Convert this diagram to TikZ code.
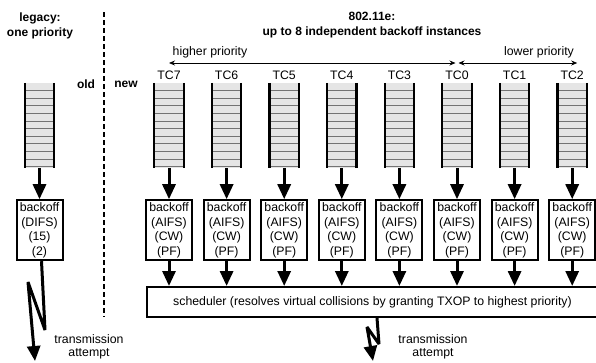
\documentclass[tikz,border=0pt]{standalone}
\usepackage{fontspec}
\setmainfont{Liberation Sans}
\usetikzlibrary{arrows.meta,positioning,calc}

\begin{document}
\begin{tikzpicture}[x=1pt,y=-1pt,
  txt/.style={font=\fontsize{12.3}{13}\selectfont,inner sep=0pt,align=center},
  head/.style={font=\fontsize{12}{15}\selectfont\bfseries,inner sep=0pt,align=center},
  box/.style={draw,line width=2pt,minimum width=46pt,minimum height=60pt,inner sep=0.5pt,align=center,font=\fontsize{12.3}{14.6}\selectfont},
  queue/.style={fill=black!10,minimum width=29pt,minimum height=85pt,inner sep=0pt},
  flow/.style={line width=3pt,line join=miter,miter limit=3,-{Triangle[length=15pt,width=13pt]}},
  prio/.style={{Stealth[length=6pt,width=5pt]}-{Stealth[length=6pt,width=5pt]},line width=0.8pt}]
  \useasboundingbox (0,0) rectangle (596,362);

  % headings
  \node[head] (legacy) at (40,25.5) {legacy:\\one priority};
  \node[head] (edca) at (372,25.5) {802.11e:\\up to 8 independent backoff instances};
  \node[head] (old) at (86,84) {old};
  \node[head] (new) at (126,84) {new};
  \draw[line width=2pt,dash pattern=on 5pt off 3pt] (104,12) -- (104,317);

  % legacy queue
  \node[queue] (q) at (39.5,125.5) {};
  \foreach \k in {1,...,11}
    \draw[black!55,line width=0.6pt] ($(q.north west)+(0,\k*7.6)$) -- ++(29,0);
  \draw[line width=2.2pt] (q.north west) -- (q.south west) (q.north east) -- (q.south east);
  \node[box,below=31pt of q] (bl) {backoff\\(DIFS)\\(15)\\(2)};
  \draw[flow] (q) -- (bl);

  % scheduler
  \node[box,minimum width=451pt,minimum height=30pt] (sched) at (372.5,302)
    {scheduler (resolves virtual collisions by granting TXOP to highest priority)};

  % 802.11e queues
  \foreach \x/\n in {169/7,226.6/6,284.2/5,341.8/4,399.4/3,457/0,514.6/1,572.2/2}{
    \node[queue] (q\n) at (\x,125.5) {};
    \foreach \k in {1,...,11}
      \draw[black!55,line width=0.6pt] ($(q\n.north west)+(0,\k*7.6)$) -- ++(29,0);
    \draw[line width=2.2pt] (q\n.north west) -- (q\n.south west) (q\n.north east) -- (q\n.south east);
    \node[txt,above=2.5pt of q\n] (t\n) {TC\n};
    \node[box,below=31pt of q\n] (b\n) {backoff\\(AIFS)\\(CW)\\(PF)};
    \draw[flow] (q\n) -- (b\n);
    \draw[flow] (b\n) -- (b\n |- sched.north);
  }

  % priority arrows
  \coordinate (prioy) at (0,63);
  \draw[prio] (t7 |- prioy) -- ($(t0 |- prioy)+(-1.5,0)$);
  \draw[prio] ($(t0 |- prioy)+(1.5,0)$) -- ($(t2 |- prioy)+(5,0)$);
  \node[txt] (higher) at (210,52) {higher priority};
  \node[txt] (lower) at (539,52) {lower priority};

  % transmission attempts
  \coordinate (tx1) at (35,361);
  \coordinate (tx2) at (373,361);
  \draw[flow] ($(bl.south)+(2,0)$) -- (45,330) -- (28,282) -- (tx1);
  \draw[flow] ($(sched.south)+(4.5,0)$) -- (379,344) -- (367,327) -- (tx2);
  \node[txt] (att1) at (89,347) {transmission\\attempt};
  \node[txt] (att2) at (433,347) {transmission\\attempt};
\end{tikzpicture}
\end{document}
